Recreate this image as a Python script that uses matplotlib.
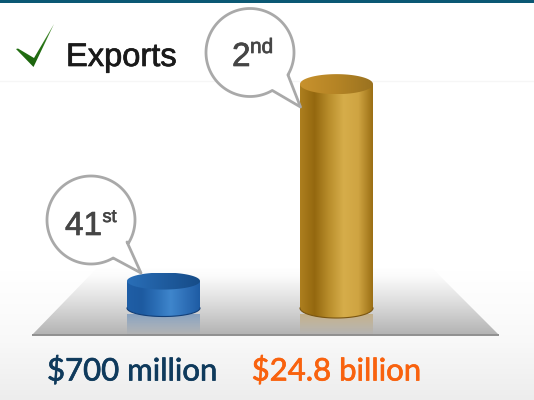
import numpy as np
import matplotlib
matplotlib.use("Agg")
import matplotlib.pyplot as plt
import matplotlib.patheffects as pe
from matplotlib.colors import LinearSegmentedColormap
from matplotlib.patches import Polygon

# Export values in billions of dollars
categories = ["$700 million", "$24.8 billion"]
values = [0.7, 24.8]
ranks = [("41", "st"), ("2", "nd")]
label_colors = ["#0f3a5c", "#f9620e"]
title = "Exports"

W, H = 534, 400
BASE_PX = 308       # row of the cylinder base
PX_PER_B = 8.17     # rows per billion
BASE_VAL = -2.6     # value sitting on the floor of the plot

fig = plt.figure(figsize=(W / 100, H / 100), dpi=100)
ax = fig.add_axes([0, 0, 1, 1])
ax.set_xlim(0, W)
ax.set_ylim(BASE_VAL - (H - BASE_PX) / PX_PER_B, BASE_VAL + BASE_PX / PX_PER_B)
ax.axis("off")


def yv(row):
    """Convert an image row into the value scale."""
    return BASE_VAL + (BASE_PX - row) / PX_PER_B


def hgrad(colors, x0, x1, r0, r1, clip, z):
    cmap = LinearSegmentedColormap.from_list("g", colors)
    im = ax.imshow(np.linspace(0, 1, 256)[None, :], cmap=cmap, aspect="auto",
                   extent=(x0, x1, yv(r1), yv(r0)), zorder=z)
    im.set_clip_path(clip)
    return im


def vgrad(stops, x0, x1, r0, r1, z, clip=None):
    pos = np.linspace(0, 1, 256)
    rgba = np.ones((256, 1, 4))
    for i in range(4):
        rgba[:, 0, i] = np.interp(pos, [s[0] for s in stops], [s[1][i] for s in stops])
    im = ax.imshow(rgba, aspect="auto", extent=(x0, x1, yv(r1), yv(r0)),
                   zorder=z, interpolation="bilinear")
    if clip is not None:
        im.set_clip_path(clip)
    return im


ax_xlim, ax_ylim = ax.get_xlim(), ax.get_ylim()

# Page background and the header rule
g = lambda v, a=1.0: (v, v, v, a)
vgrad([(0, g(1)), (0.68, g(1)), (0.85, g(.975)), (1, g(.93))], 0, W, 0, H, 0)
ax.fill_between([0, W], yv(3), yv(0), color="#0b5874", lw=0, zorder=1)
ax.plot([0, W], [yv(80.5)] * 2, color="#f6f6f6", lw=1, zorder=1)

# Floor plate
plate = Polygon([(32, yv(335)), (499, yv(335)), (432, yv(268)), (97, yv(268))],
                closed=True, fc="none", ec="none", transform=ax.transData)
ax.add_patch(plate)
vgrad([(0, g(1.0)), (0.15, g(.985)), (0.55, g(.86)), (1, g(.70))], 32, 499, 266, 335, 2, clip=plate)
ax.plot([32, 499], [yv(335)] * 2, color="#909090", lw=1.4, zorder=3, solid_capstyle="butt")

# Cylinders
styles = [
    dict(cx=163.5, rx=36.5, ry=8.5,
         side=["#1f5ea6", "#1d5aa0", "#2b6eb6", "#3f86cc", "#2f70b8", "#1e5ca4"],
         top=["#2a6fb8", "#1f5c9f", "#164c88"], rim="#123f78", refl=(0.20, 0.42, 0.68)),
    dict(cx=336.5, rx=36.5, ry=10,
         side=["#ad7f1f", "#94680f", "#b98e2c", "#d6ad4a", "#cfa442", "#9b6f14"],
         top=["#c8922e", "#b58425", "#9a7220"], rim="#7a5510", refl=(0.72, 0.55, 0.22)),
]

theta = np.linspace(0, np.pi, 80)
for val, st in zip(values, styles):
    cx, rx, ry = st["cx"], st["rx"], st["ry"]
    ky = ry / PX_PER_B
    arc_x = cx - rx * np.cos(theta)
    arc_low = BASE_VAL - ky * np.sin(theta)
    verts = [(cx - rx, val)] + list(zip(arc_x, arc_low)) + [(cx + rx, val)]
    body = Polygon(verts, closed=True, fc="none", ec="none", transform=ax.transData)
    ax.add_patch(body)
    r_top = BASE_PX - (val - BASE_VAL) * PX_PER_B
    hgrad(st["side"], cx - rx, cx + rx, r_top - ry, BASE_PX + ry + 1, body, 5)
    ax.plot(arc_x, arc_low, color=st["rim"], lw=0.8, zorder=6)

    # Top face
    t = np.linspace(0, 2 * np.pi, 160)
    cap = Polygon(np.c_[cx + rx * np.cos(t), val + ky * np.sin(t)], closed=True,
                  fc="none", ec="none", transform=ax.transData)
    ax.add_patch(cap)
    hgrad(st["top"], cx - rx, cx + rx, r_top - ry, r_top + ry, cap, 6)

    # Reflection on the plate
    r, gg, b = st["refl"]
    vgrad([(0, (r, gg, b, 0.45)), (1, (r, gg, b, 0.0))], cx - rx, cx + rx, BASE_PX + 6, 335, 4)

# Speech bubbles
bubble_geo = [
    dict(c=(91, 220), r=44, tail=[(127, 242), (141, 273), (112, 256)]),
    dict(c=(250, 52.5), r=44, tail=[(288, 75), (300.5, 107), (272, 90)]),
]
for geo in bubble_geo:
    (cx, cy), r = geo["c"], geo["r"]
    tail = geo["tail"]
    a0 = np.arctan2(tail[0][1] - cy, tail[0][0] - cx)
    a1 = np.arctan2(tail[2][1] - cy, tail[2][0] - cx)
    ang = np.linspace(a1, a0 + 2 * np.pi, 200)
    pts = [(cx + r * np.cos(a), yv(cy + r * np.sin(a))) for a in ang]
    pts += [(tail[0][0], yv(tail[0][1])), (tail[1][0], yv(tail[1][1]))]
    ax.add_patch(Polygon(pts, closed=True, fc="white", ec="#a9a9a9", lw=2, zorder=8, joinstyle="round"))

txt = dict(family="Liberation Sans", color="#454545", zorder=9, va="baseline", ha="left",
           path_effects=[pe.withStroke(linewidth=0.5, foreground="#454545")])
ax.text(65, yv(235), ranks[0][0], fontsize=24, **txt)
ax.text(102.5, yv(222), ranks[0][1], fontsize=13, **txt)
ax.text(232, yv(66), ranks[1][0], fontsize=24, **txt)
ax.text(250, yv(53), ranks[1][1], fontsize=15, **txt)

# Check mark
check = Polygon([(16, yv(49)), (18, yv(48.5)), (34, yv(58)), (54, yv(24)), (33.5, yv(67))],
                closed=True, fc="none", ec="none", transform=ax.transData)
ax.add_patch(check)
vgrad([(0, (.35, .60, .25, 1)), (.5, (.15, .45, .08, 1)), (1, (.10, .38, .05, 1))], 14, 56, 24, 68, 9, clip=check)

# Heading
ax.text(66, yv(66), title, fontsize=23.5, family="Liberation Sans", color="#1a1a1a",
        ha="left", va="baseline", zorder=9,
        path_effects=[pe.withStroke(linewidth=0.5, foreground="#1a1a1a")])

# Value labels under the cylinders
for label, col, x in zip(categories, label_colors, [132, 336.5]):
    ax.text(x, yv(380.5), label, fontsize=22.4, family="Lato", color=col,
            ha="center", va="baseline", zorder=9,
            path_effects=[pe.withStroke(linewidth=0.5, foreground=col)])

ax.set_xlim(ax_xlim)
ax.set_ylim(ax_ylim)
fig.savefig("out.png", dpi=100)
